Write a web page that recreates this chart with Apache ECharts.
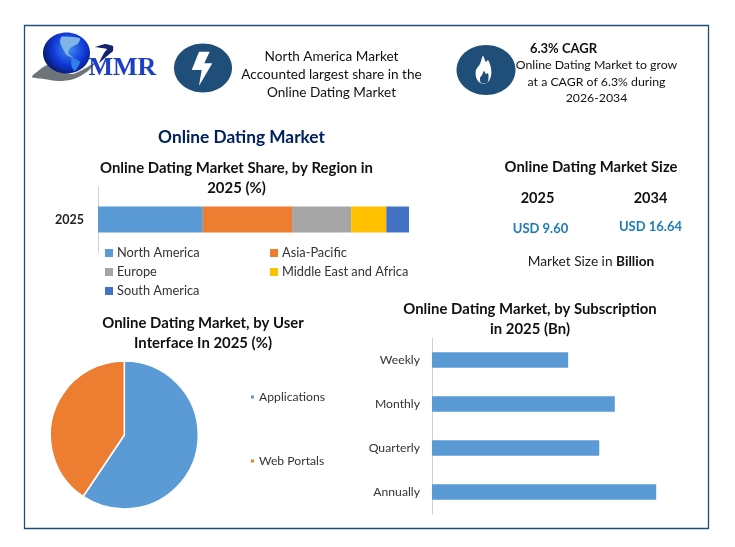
<!DOCTYPE html>
<html>
<head>
<meta charset="utf-8">
<style>html,body{margin:0;padding:0;background:#fff}#c{width:735px;height:547px}</style>
<script src="https://cdn.jsdelivr.net/npm/echarts@6/dist/echarts.min.js"></script>
</head>
<body>
<div id="c"></div>
<script>
const regionYear = ['2025'];
const regionNames = ['North America', 'Asia-Pacific', 'Europe', 'Middle East and Africa', 'South America'];
const regionValues = [33.7, 28.7, 19.0, 11.3, 7.3];
const regionColors = ['#5b9bd5', '#ed7d31', '#a5a5a5', '#ffc000', '#4472c4'];
const interfaceNames = ['Applications', 'Web Portals'];
const interfaceValues = [59.4, 40.6];
const interfaceColors = ['#5b9bd5', '#ed7d31'];
const subscriptionNames = ['Weekly', 'Monthly', 'Quarterly', 'Annually'];
const subscriptionValues = [1.84, 2.47, 2.26, 3.03];

const FONT = 'Lato';
const NAVY = '#1f4e79';

function txt(x, y, text, size, bold, color, align) {
  return { type: 'text', x: x, y: y, silent: true, style: {
    text: text, fontFamily: FONT, fontSize: size, fontWeight: bold ? 'bold' : 'normal',
    fill: color || '#111', align: align || 'center', verticalAlign: 'middle' } };
}
function poly(points, fill, smooth) {
  return { type: 'polygon', silent: true, shape: { points: points, smooth: smooth || 0 }, style: { fill: fill } };
}

const decorations = [
  { type: 'rect', silent: true, shape: { x: 24.5, y: 25.5, width: 684, height: 503 }, style: { fill: 'none', stroke: NAVY, lineWidth: 1.3 } },
  // logo
  poly([[32, 77], [38, 71], [45, 66], [53, 63], [60, 70], [72, 74], [84, 69], [96, 62], [88, 71], [74, 79], [58, 81], [44, 79]], '#6f7478', 0.3),
  { type: 'ellipse', silent: true, shape: { cx: 66.5, cy: 53, rx: 23.5, ry: 20.5 }, style: { fill: {
    type: 'radial', x: 0.55, y: 0.4, r: 0.72, colorStops: [{ offset: 0, color: '#3f8df0' }, { offset: 0.55, color: '#1038d8' }, { offset: 1, color: '#04104f' }] } } },
  poly([[61.7, 36.7], [80, 38.3], [78.3, 43.3], [70, 48.3], [68.3, 53.3], [73.3, 57.7], [66.7, 55], [61.7, 46.7], [60, 41.7]], '#7fb4e6', 0.2),
  poly([[71.7, 57.7], [80, 61.7], [75, 71], [71.7, 66.7]], '#2f7fe8', 0.2),
  poly([[95, 47], [105, 44], [113, 46], [113, 51], [106, 57], [99, 63], [104, 53], [107, 49], [101, 48]], '#14246e', 0.1),
  { type: 'text', silent: true, x: 88.5, y: 68.5, style: { text: 'MMR', fontFamily: 'Liberation Serif', fontWeight: 'bold', fontSize: 26, fill: '#1c3fc4', align: 'left', verticalAlign: 'middle' } },
  // badges
  { type: 'ellipse', silent: true, shape: { cx: 203, cy: 68, rx: 29, ry: 24.5 }, style: { fill: NAVY } },
  poly([[199, 51.7], [209.7, 51.7], [204.3, 63.3], [212.3, 63.3], [199, 85.7], [201.7, 70], [191.7, 70]], '#fff'),
  { type: 'ellipse', silent: true, shape: { cx: 486, cy: 70, rx: 29.5, ry: 25 }, style: { fill: NAVY } },
  poly([[483, 56], [486, 62], [488, 60], [491, 68], [491, 76], [488, 82], [484, 84], [479, 82], [476, 77], [476, 70], [480, 64]], '#fff', 0.3),
  poly([[484, 71], [486, 74], [488, 73], [488.5, 78], [487, 83], [481, 83], [480, 78], [482, 75]], NAVY, 0.3),
  // callouts
  txt(331.5, 56.5, 'North America Market', 13.6),
  txt(331.5, 74.5, 'Accounted largest share in the', 13.6),
  txt(331.5, 92.5, 'Online Dating Market', 13.6),
  txt(563.5, 48.5, '6.3% CAGR', 13, true),
  txt(596.5, 65.5, 'Online Dating Market to grow', 12.3),
  txt(596.5, 82, 'at a CAGR of 6.3% during', 12.3),
  txt(596.5, 98.5, '2026-2034', 12.3),
  // headings
  txt(241.5, 137.5, 'Online Dating Market', 17.3, true, '#002060'),
  txt(236.5, 168.5, 'Online Dating Market Share, by Region in', 14.9, true),
  txt(236.5, 188.5, '2025 (%)', 14.9, true),
  txt(203, 323.5, 'Online Dating Market, by User', 14.9, true),
  txt(203, 343.5, 'Interface In 2025 (%)', 14.9, true),
  txt(530, 309.5, 'Online Dating Market, by Subscription', 14.9, true),
  txt(530, 329.5, 'in 2025 (Bn)', 14.9, true),
  // market size
  txt(591, 167.5, 'Online Dating Market Size', 14.8, true),
  txt(537.5, 198, '2025', 14.5, true),
  txt(650.5, 198, '2034', 14.5, true),
  txt(540.5, 228.5, 'USD 9.60', 13, true, '#1f7ab8'),
  txt(650.5, 226.5, 'USD 16.64', 13, true, '#1f7ab8'),
  { type: 'text', silent: true, x: 591, y: 261.5, style: {
    text: '{a|Market Size in }{b|Billion}', align: 'center', verticalAlign: 'middle',
    rich: { a: { fontFamily: FONT, fontSize: 13.7, fill: '#222', color: '#222' }, b: { fontFamily: FONT, fontSize: 13.7, fontWeight: 'bold', fill: '#111', color: '#111' } } } }
];

const legendText = { fontFamily: FONT, fontSize: 12.8, color: '#333' };

const option = {
  animation: false,
  backgroundColor: '#fff',
  graphic: decorations,
  grid: [
    { left: 98, top: 187, width: 311, height: 65 },
    { left: 432, top: 338, width: 296, height: 176 }
  ],
  xAxis: [
    { gridIndex: 0, type: 'value', min: 0, max: 100, show: false },
    { gridIndex: 1, type: 'value', min: 0, max: 4, show: false }
  ],
  yAxis: [
    { gridIndex: 0, type: 'category', data: regionYear,
      axisLine: { lineStyle: { color: '#d0d0d0', width: 1 } }, axisTick: { show: false },
      axisLabel: { margin: 14, fontFamily: FONT, fontSize: 12.5, fontWeight: 'bold', color: '#222' } },
    { gridIndex: 1, type: 'category', data: subscriptionNames, inverse: true,
      axisLine: { lineStyle: { color: '#d0d0d0', width: 1 } }, axisTick: { show: false },
      axisLabel: { margin: 12, fontFamily: FONT, fontSize: 12.2, color: '#333', padding: [2, 0, 0, 0] } }
  ],
  legend: [
    { left: 100, top: 241, orient: 'vertical', itemWidth: 8, itemHeight: 8, itemGap: 5, icon: 'rect', textStyle: Object.assign({ padding: [0, 0, 0, -1], height: 14, lineHeight: 14 }, legendText),
      data: [regionNames[0], regionNames[2], regionNames[4]] },
    { left: 265, top: 241, orient: 'vertical', itemWidth: 8, itemHeight: 8, itemGap: 5, icon: 'rect', textStyle: Object.assign({ padding: [0, 0, 0, -1], height: 14, lineHeight: 14 }, legendText),
      data: [regionNames[1], regionNames[3]] },
    { left: 244, top: 385, orient: 'vertical', itemWidth: 5, itemHeight: 5, itemGap: 50, icon: 'rect', textStyle: { fontFamily: FONT, fontSize: 12.2, color: '#333', height: 14, lineHeight: 14, padding: [0, 0, 0, -1] },
      data: interfaceNames }
  ],
  series: regionNames.map(function (name, i) {
    return { name: name, type: 'bar', stack: 'region', xAxisIndex: 0, yAxisIndex: 0, barWidth: 26,
      itemStyle: { color: regionColors[i] }, data: [regionValues[i]], emphasis: { disabled: true } };
  }).concat([
    { name: 'Subscription', type: 'bar', xAxisIndex: 1, yAxisIndex: 1, barWidth: 15.5,
      itemStyle: { color: '#5b9bd5' }, data: subscriptionValues, emphasis: { disabled: true } },
    { name: 'Interface', type: 'pie', center: [124.3, 435], radius: [0, 74], startAngle: 90, clockwise: true,
      label: { show: false }, labelLine: { show: false }, emphasis: { disabled: true },
      itemStyle: { borderColor: '#fff', borderWidth: 1.5 },
      data: interfaceNames.map(function (n, i) { return { name: n, value: interfaceValues[i], itemStyle: { color: interfaceColors[i] } }; }) }
  ])
};
const chart = echarts.init(document.getElementById('c'), null, { renderer: 'canvas' });
chart.setOption(option);
</script>
</body>
</html>
